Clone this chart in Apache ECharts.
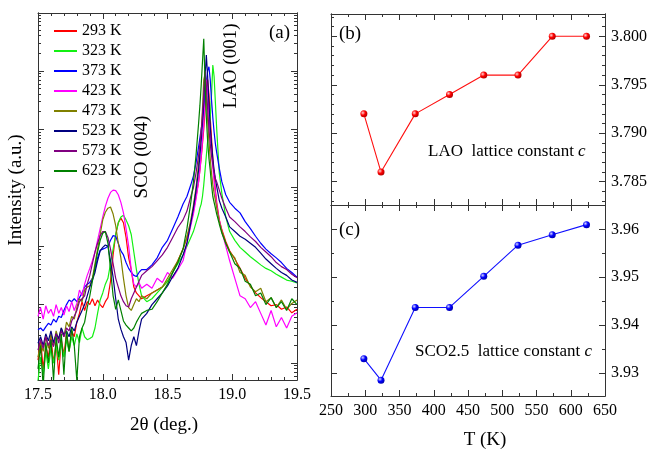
<!DOCTYPE html>
<html><head><meta charset="utf-8">
<script src="https://cdn.jsdelivr.net/npm/echarts@6/dist/echarts.min.js"></script>
<style>html,body{margin:0;padding:0;background:#fff}#c{width:650px;height:449px}</style>
</head><body><div id="c"></div>
<script>
// ---------- Panel (a): XRD spectra (log10 of intensity, arbitrary units) ----------
const twoTheta = [
17.50,17.52,17.54,17.56,17.58,17.60,17.62,17.64,17.66,17.68,17.70,17.72,17.74,17.76,17.78,17.80,17.82,17.84,17.86,17.88,
17.90,17.92,17.94,17.96,17.98,18.00,18.02,18.04,18.06,18.08,18.10,18.12,18.14,18.16,18.18,18.20,18.22,18.24,18.26,18.28,18.30,
18.34,18.38,18.42,18.46,18.50,18.54,18.58,18.62,
18.65,18.68,18.70,18.72,18.74,18.75,18.76,18.77,18.78,18.79,18.80,18.81,18.82,18.83,18.84,18.85,18.86,18.87,18.88,18.90,18.92,18.95,
18.98,19.02,19.06,19.10,19.14,19.18,19.22,19.26,19.30,19.34,19.38,19.42,19.46,19.50];

const tempLabels = ['293 K','323 K','373 K','423 K','473 K','523 K','573 K','623 K'];

const logI293 = [
0.05,0.40,-0.10,0.30,0.10,0.45,0.00,0.35,-0.20,0.40,0.15,0.50,0.20,0.55,0.45,0.70,0.85,1.05,0.90,1.05,
1.00,1.10,0.98,1.08,1.00,0.95,1.05,1.12,1.40,1.85,2.20,2.40,2.48,2.40,2.15,1.80,1.60,1.30,1.20,1.15,1.10,
1.15,1.20,1.25,1.30,1.40,1.55,1.75,1.95,
2.15,2.40,2.60,2.85,3.10,3.30,3.50,3.75,4.00,4.35,4.65,4.85,4.60,4.20,3.85,3.50,3.20,2.95,2.75,2.45,2.28,2.08,
1.92,1.78,1.62,1.45,1.32,1.20,1.12,1.05,0.98,1.00,0.92,0.96,0.86,0.92];
const logI323 = [
-0.30,0.10,-0.20,0.20,-0.10,0.25,0.00,0.30,0.05,0.35,0.10,0.40,0.20,0.45,0.30,0.50,0.35,0.60,0.45,0.40,
0.42,0.45,0.60,0.85,1.08,1.20,1.35,1.45,1.70,1.95,2.20,2.40,2.50,2.53,2.45,2.35,2.20,1.90,1.60,1.35,1.15,
1.05,1.10,1.20,1.30,1.40,1.55,1.70,1.85,
2.00,2.15,2.25,2.40,2.55,2.65,2.72,2.85,3.05,3.30,3.55,3.80,4.00,4.20,4.60,5.10,4.90,4.45,4.00,3.25,2.90,2.50,
2.25,2.10,1.98,1.90,1.82,1.75,1.68,1.62,1.58,1.52,1.47,1.42,1.40,1.37];
const logI373 = [
0.57,0.60,0.55,0.62,0.68,0.65,0.75,0.70,0.80,0.78,0.90,1.00,1.08,1.05,1.10,1.05,1.12,1.20,1.30,1.35,
1.38,1.45,1.60,1.80,1.93,1.95,1.97,2.00,2.10,2.18,2.17,2.05,1.92,1.85,1.72,1.62,1.55,1.50,1.48,1.55,1.60,
1.60,1.68,1.80,1.98,2.10,2.30,2.50,2.72,
2.85,3.05,3.20,3.42,3.70,3.85,4.00,4.15,4.35,4.55,4.80,5.00,5.07,4.85,4.50,4.20,3.95,3.75,3.60,3.33,3.10,2.88,
2.75,2.65,2.57,2.42,2.30,2.17,2.05,1.95,1.87,1.80,1.72,1.62,1.55,1.47];
const logI423 = [
0.80,0.95,0.75,0.98,0.85,0.92,0.80,1.00,0.85,0.95,0.82,0.98,0.88,1.05,0.90,1.02,1.25,1.15,1.35,1.50,
1.62,1.75,1.90,2.10,2.30,2.50,2.68,2.82,2.92,2.96,2.95,2.88,2.75,2.57,2.30,2.00,1.60,1.35,1.30,1.38,1.28,
1.35,1.28,1.45,1.38,1.55,1.45,1.60,1.75,
2.05,2.35,2.55,2.80,3.10,3.30,3.55,3.80,4.10,4.50,4.85,4.65,4.25,3.90,3.60,3.35,3.10,2.90,2.70,2.45,2.25,2.00,
1.75,1.45,1.15,1.10,0.95,1.05,0.85,0.65,0.90,0.62,0.78,0.60,0.80,0.86];
const logI473 = [
0.10,0.35,0.20,0.45,0.25,0.50,0.30,0.55,0.40,0.60,0.45,0.70,0.62,0.80,0.75,0.95,1.10,1.05,1.25,1.30,
1.32,1.45,1.70,1.95,2.20,2.45,2.58,2.65,2.67,2.55,2.35,2.05,1.80,1.45,1.15,0.95,0.90,1.00,1.10,1.05,1.15,
1.10,1.20,1.25,1.30,1.45,1.60,1.75,1.95,
2.15,2.45,2.70,3.00,3.40,3.65,3.95,4.35,4.85,4.95,4.55,4.15,3.80,3.50,3.25,3.05,2.90,2.78,2.65,2.42,2.25,2.05,
1.90,1.80,1.55,1.50,1.30,1.22,1.28,1.05,1.12,0.95,1.08,0.92,1.02,1.08];
const logI523 = [
0.34,0.45,0.30,0.50,0.38,0.55,0.35,0.50,0.42,0.60,0.48,0.55,0.45,0.62,0.55,0.70,0.80,0.90,1.00,1.15,
1.30,1.42,1.55,1.75,1.92,1.98,2.02,2.00,1.75,1.47,1.10,0.75,0.58,0.45,0.35,0.05,0.30,0.45,0.30,0.55,0.75,
0.85,1.00,1.10,1.20,1.32,1.48,1.62,1.85,
2.05,2.40,2.65,2.95,3.30,3.55,3.80,4.10,4.45,4.90,5.27,4.90,4.45,4.05,3.75,3.50,3.30,3.15,3.02,2.78,2.65,2.50,
2.33,2.25,2.17,2.12,2.05,1.98,1.88,1.78,1.70,1.62,1.55,1.50,1.42,1.38];
const logI573 = [
0.22,0.40,0.25,0.45,0.30,0.40,0.28,0.50,0.34,0.55,0.45,0.60,0.55,0.72,0.80,0.90,1.05,1.10,1.15,1.35,
1.50,1.70,1.90,2.05,2.18,2.25,2.25,2.15,1.95,1.70,1.45,1.30,1.15,1.05,0.98,0.96,1.10,1.20,1.30,1.40,1.50,
1.58,1.65,1.75,1.85,1.98,2.15,2.32,2.45,
2.60,2.85,3.00,3.25,3.55,3.75,3.95,4.25,4.60,5.00,4.75,4.35,4.00,3.75,3.55,3.40,3.25,3.15,3.10,2.96,2.82,2.65,
2.50,2.42,2.33,2.25,2.16,2.08,1.98,1.90,1.82,1.72,1.65,1.60,1.52,1.46];
const logI623 = [
-0.10,0.30,-0.40,0.35,0.00,0.40,-0.30,0.45,0.10,0.50,-0.20,0.55,0.20,0.60,0.30,-0.30,0.45,0.60,0.70,0.95,
1.15,1.40,1.65,1.90,2.10,2.22,2.25,2.05,1.60,1.15,0.92,1.08,0.90,0.72,0.65,0.60,0.55,0.60,0.70,0.78,0.85,
0.90,0.92,1.05,1.20,1.35,1.55,1.72,1.95,
2.30,2.75,3.10,3.55,4.10,4.40,4.75,5.15,5.55,4.80,4.20,3.80,3.50,3.30,3.05,2.85,2.75,2.65,2.55,2.38,2.22,2.05,
1.90,1.70,1.62,1.40,1.35,1.15,1.20,1.00,1.12,0.95,1.05,0.90,1.10,1.00];

// ---------- Panels (b) and (c): lattice constants ----------
const temperatureK = [298, 323, 373, 423, 473, 523, 573, 623];
const laoC   = [3.792, 3.786, 3.792, 3.794, 3.796, 3.796, 3.800, 3.800];
const sco25C = [3.933, 3.9285, 3.9437, 3.9437, 3.9502, 3.9567, 3.9589, 3.961];

const bTickLabels = [3.785, 3.790, 3.795, 3.800];
const cTickLabels = [3.93, 3.94, 3.95, 3.96];

// ---------- styling ----------
const FONT = '"Liberation Serif","Times New Roman",serif';
const AX = '#333';
const spectraColors = ['#ff0000','#13f013','#0000ff','#ff00ff','#808000','#000080','#800080','#008000'];
const spectra = [logI293, logI323, logI373, logI423, logI473, logI523, logI573, logI623];

// tick positions on log axis (decades)
const aMajor = [0,1,2,3,4,5];
const aMinor = [];
for (let n = -1; n <= 5; n++) for (let k = 2; k <= 9; k++) {
  const v = n + Math.log10(k);
  if (v > -0.29 && v < 5.99) aMinor.push(v);
}
const bMinor = [3.783,3.784,3.786,3.787,3.788,3.789,3.791,3.792,3.793,3.794,3.796,3.797,3.798,3.799,3.801,3.802];
const cMinor = [3.935,3.945,3.955];

function xAx(grid, pos, min, max, interval, minorSplit, showLabel, dec) {
  return {type:'value', gridIndex:grid, position:pos, min:min, max:max, interval:interval,
    axisLine:{show:true, onZero:false, lineStyle:{color:AX, width:1}},
    axisTick:{show:true, inside:true, length:6, lineStyle:{color:AX}},
    minorTick:{show:true, splitNumber:minorSplit, length:3, lineStyle:{color:AX}},
    axisLabel:{show:showLabel, margin:7, color:'#000', fontFamily:FONT, fontSize:16,
      showMinLabel:true, showMaxLabel:true, formatter:v => v.toFixed(dec)},
    splitLine:{show:false}, minorSplitLine:{show:false}};
}
function yAx(grid, pos, min, max, ticks, len, showLabel, dec) {
  return {type:'value', gridIndex:grid, position:pos, min:min, max:max,
    axisLine:{show:true, onZero:false, lineStyle:{color:AX, width:1}},
    axisTick:{show:true, inside:true, length:len, customValues:ticks, lineStyle:{color:AX}},
    axisLabel:{show:showLabel, customValues:ticks, margin:6, color:'#000', fontFamily:FONT, fontSize:16,
      formatter:v => Number(v).toFixed(dec)},
    splitLine:{show:false}};
}

const series = spectra.map((arr, i) => ({
  name: tempLabels[i], type:'line', xAxisIndex:0, yAxisIndex:0,
  data: twoTheta.map((x, j) => [x, arr[j]]),
  symbol:'none', showSymbol:false, clip:true, animation:false,
  lineStyle:{width:1.2, color:spectraColors[i]}, itemStyle:{color:spectraColors[i]}
}));

function ball(c0, c1, c2) {
  return {type:'radial', x:0.35, y:0.35, r:0.75,
    colorStops:[{offset:0,color:c0},{offset:0.45,color:c1},{offset:1,color:c2}]};
}
series.push({
  type:'line', xAxisIndex:2, yAxisIndex:4, animation:false,
  data: temperatureK.map((t, i) => [t, laoC[i]]),
  symbol:'circle', symbolSize:7,
  lineStyle:{color:'#ff1010', width:1.1},
  itemStyle:{color: ball('#ffd6d6', '#ff0000', '#a00000')}
});
series.push({
  type:'line', xAxisIndex:4, yAxisIndex:8, animation:false,
  data: temperatureK.map((t, i) => [t, sco25C[i]]),
  symbol:'circle', symbolSize:7,
  lineStyle:{color:'#1010ff', width:1.1},
  itemStyle:{color: ball('#d6d6ff', '#0000ff', '#0000a0')}
});

const bMin = 3.7826, bMax = 3.8023, cMin = 3.9252, cMax = 3.9651;

const option = {
  animation:false,
  backgroundColor:'#fff',
  grid:[
    {left:38, top:13, width:259, height:367, outerBoundsMode:'none'},
    {left:331, top:14, width:274, height:191, outerBoundsMode:'none'},
    {left:331, top:205, width:274, height:191, outerBoundsMode:'none'}
  ],
  xAxis:[
    xAx(0,'bottom',17.5,19.5,0.5,5,true,1),
    xAx(0,'top',17.5,19.5,0.5,5,false,1),
    xAx(1,'bottom',250,650,50,2,false,0),
    xAx(1,'top',250,650,50,2,false,0),
    xAx(2,'bottom',250,650,50,2,true,0),
    xAx(2,'top',250,650,50,2,false,0)
  ],
  yAxis:[
    yAx(0,'left',-0.29,5.99,aMajor,6,false,0),
    yAx(0,'left',-0.29,5.99,aMinor,3,false,0),
    yAx(0,'right',-0.29,5.99,aMajor,6,false,0),
    yAx(0,'right',-0.29,5.99,aMinor,3,false,0),
    yAx(1,'left',bMin,bMax,bTickLabels,6,false,3),
    yAx(1,'left',bMin,bMax,bMinor,3,false,3),
    yAx(1,'right',bMin,bMax,bTickLabels,6,true,3),
    yAx(1,'right',bMin,bMax,bMinor,3,false,3),
    yAx(2,'left',cMin,cMax,cTickLabels,6,false,2),
    yAx(2,'left',cMin,cMax,cMinor,3,false,2),
    yAx(2,'right',cMin,cMax,cTickLabels,6,true,2),
    yAx(2,'right',cMin,cMax,cMinor,3,false,2)
  ],
  legend:{
    data: tempLabels, orient:'vertical', left:49, top:18,
    icon:'rect', itemWidth:23, itemHeight:2, itemGap:4,
    textStyle:{fontFamily:FONT, fontSize:16, color:'#000'}
  },
  graphic:[
    {type:'text', x:269, y:33, style:{text:'(a)', font:'19px '+FONT, fill:'#000', textVerticalAlign:'middle', verticalAlign:'middle'}},
    {type:'text', x:231, y:66, rotation:Math.PI/2, style:{text:'LAO (001)', font:'19px '+FONT, fill:'#000', textAlign:'center', align:'center', textVerticalAlign:'middle', verticalAlign:'middle'}},
    {type:'text', x:142, y:157, rotation:Math.PI/2, style:{text:'SCO (004)', font:'19px '+FONT, fill:'#000', textAlign:'center', align:'center', textVerticalAlign:'middle', verticalAlign:'middle'}},
    {type:'text', x:16, y:190, rotation:Math.PI/2, style:{text:'Intensity (a.u.)', font:'19px '+FONT, fill:'#000', textAlign:'center', align:'center', textVerticalAlign:'middle', verticalAlign:'middle'}},
    {type:'text', x:164, y:425, style:{text:'2\u03b8 (deg.)', font:'19px '+FONT, fill:'#000', textAlign:'center', align:'center', textVerticalAlign:'middle', verticalAlign:'middle'}},
    {type:'text', x:339, y:34, style:{text:'(b)', font:'19px '+FONT, fill:'#000', textVerticalAlign:'middle', verticalAlign:'middle'}},
    {type:'text', x:339, y:230, style:{text:'(c)', font:'19px '+FONT, fill:'#000', textVerticalAlign:'middle', verticalAlign:'middle'}},
    {type:'text', x:428, y:152, style:{text:'{n|LAO  lattice constant }{i|c}', fill:'#000', textVerticalAlign:'middle', verticalAlign:'middle',
      rich:{n:{fontFamily:FONT, fontSize:17, fill:'#000', color:'#000'}, i:{fontFamily:FONT, fontSize:17, fontStyle:'italic', fill:'#000', color:'#000'}}}},
    {type:'text', x:415, y:352, style:{text:'{n|SCO2.5  lattice constant }{i|c}', fill:'#000', textVerticalAlign:'middle', verticalAlign:'middle',
      rich:{n:{fontFamily:FONT, fontSize:17, fill:'#000', color:'#000'}, i:{fontFamily:FONT, fontSize:17, fontStyle:'italic', fill:'#000', color:'#000'}}}},
    {type:'text', x:485, y:440, style:{text:'T (K)', font:'19px '+FONT, fill:'#000', textAlign:'center', align:'center', textVerticalAlign:'middle', verticalAlign:'middle'}}
  ],
  series: series
};

const chart = echarts.init(document.getElementById('c'), null, {renderer:'canvas'});
chart.setOption(option);
</script></body></html>
